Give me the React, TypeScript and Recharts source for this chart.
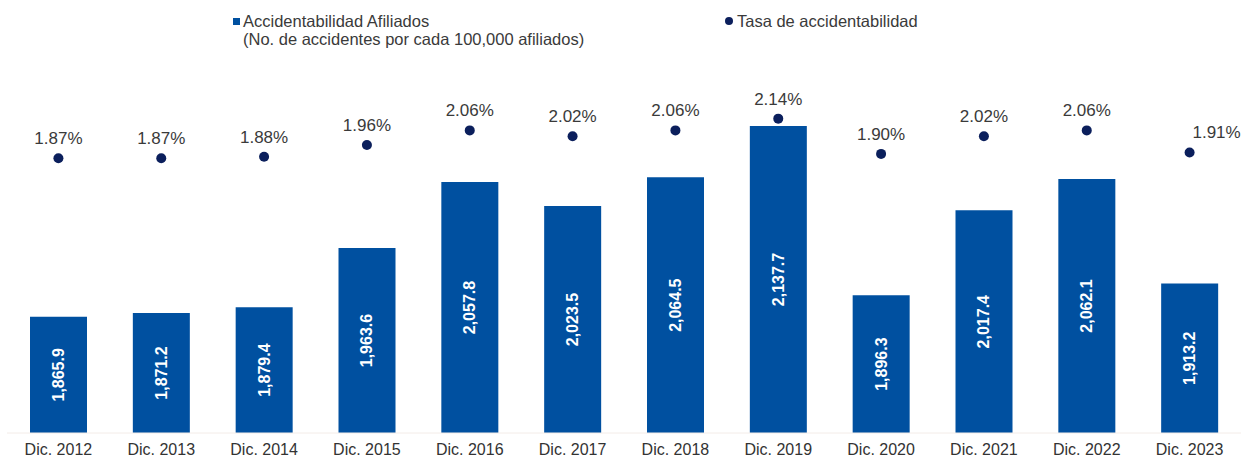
import { ComposedChart, Bar, Line, XAxis, YAxis, LabelList } from "recharts";

const categories = [
  "Dic. 2012", "Dic. 2013", "Dic. 2014", "Dic. 2015", "Dic. 2016", "Dic. 2017",
  "Dic. 2018", "Dic. 2019", "Dic. 2020", "Dic. 2021", "Dic. 2022", "Dic. 2023",
];
const afiliados = [1865.9, 1871.2, 1879.4, 1963.6, 2057.8, 2023.5, 2064.5, 2137.7, 1896.3, 2017.4, 2062.1, 1913.2];
const tasa = [1.87, 1.87, 1.88, 1.96, 2.06, 2.02, 2.06, 2.14, 1.9, 2.02, 2.06, 1.91];

const data = categories.map((cat, i) => ({ cat, afiliados: afiliados[i], tasa: tasa[i] }));

const BAR = "#0050a0";
const DOT = "#0b1f5c";
const TEXT = "#3a3a3a";
const FONT = "'Liberation Sans', Arial, sans-serif";

const fmtBar = (v: number) =>
  v.toLocaleString("en-US", { minimumFractionDigits: 1, maximumFractionDigits: 1 });

function BarLabel(props: any) {
  const { x, y, width, height, value } = props;
  const cx = x + width / 2;
  const cy = y + height / 2;
  return (
    <text
      x={cx}
      y={cy}
      transform={`rotate(-90 ${cx} ${cy})`}
      textAnchor="middle"
      dominantBaseline="central"
      fill="#fff"
      fontSize={16}
      fontWeight="bold"
      fontFamily={FONT}
    >
      {fmtBar(value)}
    </text>
  );
}

function RateLabel(props: any) {
  const { x, y, value, index } = props;
  // last label sits off to the right of its dot in the original
  const dx = index === categories.length - 1 ? 27 : 0;
  return (
    <text x={x + dx} y={y - 14} textAnchor="middle" fill={TEXT} fontSize={17} fontFamily={FONT}>
      {value.toFixed(2)}%
    </text>
  );
}

function LegendBox() {
  const txt = { position: "absolute" as const, fontSize: 16.5, lineHeight: "18px", color: TEXT, whiteSpace: "nowrap" as const };
  return (
    <>
      <div style={{ position: "absolute", left: 233, top: 18, width: 7, height: 7, background: BAR }} />
      <div style={{ ...txt, left: 243, top: 12 }}>
        Accidentabilidad Afiliados
        <br />
        (No. de accidentes por cada 100,000 afiliados)
      </div>
      <div style={{ position: "absolute", left: 725, top: 17, width: 8, height: 8, borderRadius: 4, background: DOT }} />
      <div style={{ ...txt, left: 737, top: 12 }}>Tasa de accidentabilidad</div>
    </>
  );
}

export default function App() {
  return (
    <div style={{ position: "absolute", left: 0, top: 0, width: 1244, height: 462, background: "#fff", fontFamily: FONT }}>
      <LegendBox />
      <ComposedChart width={1244} height={462} data={data} margin={{ top: 90, right: 3, bottom: 0, left: 7 }}>
        <XAxis
          dataKey="cat"
          height={29}
          tickLine={false}
          axisLine={{ stroke: "#f3ece8" }}
          tickMargin={5}
          interval={0}
          tick={{ fontSize: 16, fill: "#333", fontFamily: FONT }}
        />
        <YAxis yAxisId="bar" hide domain={[1700, 2189]} allowDataOverflow />
        <YAxis yAxisId="rate" hide orientation="right" domain={[0, 2.335]} allowDataOverflow />
        <Bar yAxisId="bar" dataKey="afiliados" fill={BAR} barSize={57} isAnimationActive={false}>
          <LabelList dataKey="afiliados" content={BarLabel} />
        </Bar>
        <Line
          yAxisId="rate"
          dataKey="tasa"
          stroke="none"
          dot={{ r: 5, fill: DOT, stroke: "none" }}
          activeDot={false}
          isAnimationActive={false}
        >
          <LabelList dataKey="tasa" content={RateLabel} />
        </Line>
      </ComposedChart>
    </div>
  );
}
